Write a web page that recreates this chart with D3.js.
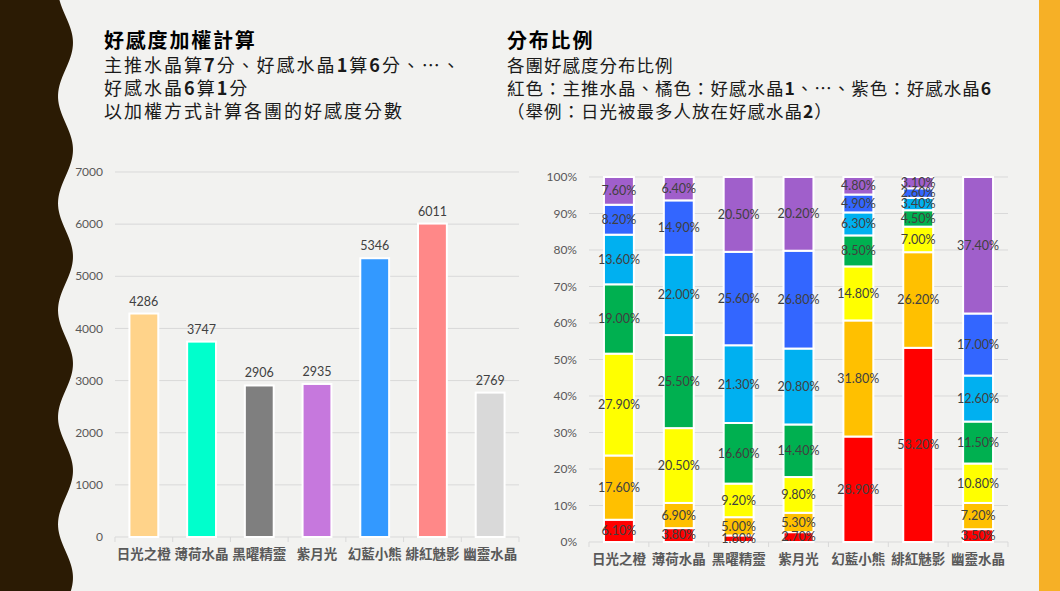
<!DOCTYPE html>
<html>
<head>
<meta charset="utf-8">
<script src="https://cdn.jsdelivr.net/npm/d3@7"></script>
<style>
  body { margin: 0; background: #F2F2F0; }
  svg text { font-family: Lato, "Noto Sans CJK TC", sans-serif; }
</style>
</head>
<body>
<div id="chart"></div>
<script>
// Data
const groups = ["日光之橙", "薄荷水晶", "黑曜精靈", "紫月光", "幻藍小熊", "緋紅魅影", "幽靈水晶"];
const scores = [4286, 3747, 2906, 2935, 5346, 6011, 2769];
const scoreColors = ["#FFD38A", "#00FFCC", "#7F7F7F", "#C678DD", "#3399FF", "#FF8888", "#D9D9D9"];
const scoreTicks = [0, 1000, 2000, 3000, 4000, 5000, 6000, 7000];

const levels = ["主推水晶", "好感水晶1", "好感水晶2", "好感水晶3", "好感水晶4", "好感水晶5", "好感水晶6"];
const levelColors = ["#FF0000", "#FFC000", "#FFFF00", "#00B050", "#00B0F0", "#3366FF", "#A05FCB"];
const share = [
  [6.1, 17.6, 27.9, 19.0, 13.6, 8.2, 7.6],
  [3.8, 6.9, 20.5, 25.5, 22.0, 14.9, 6.4],
  [1.8, 5.0, 9.2, 16.6, 21.3, 25.6, 20.5],
  [2.7, 5.3, 9.8, 14.4, 20.8, 26.8, 20.2],
  [28.9, 31.8, 14.8, 8.5, 6.3, 4.9, 4.8],
  [53.2, 26.2, 7.0, 4.5, 3.4, 2.6, 3.1],
  [3.5, 7.2, 10.8, 11.5, 12.6, 17.0, 37.4]
];
const pctTicks = [0, 10, 20, 30, 40, 50, 60, 70, 80, 90, 100];

const width = 1060;
const height = 591;

const svg = d3.select("#chart")
  .append("svg")
  .attr("width", width)
  .attr("height", height);

svg.append("rect").attr("width", width).attr("height", height).attr("fill", "#F2F2F0");

// wavy left border
const wave = d3.range(0, height + 6, 3).map(y => [65.5 + 7.5 * Math.sin((y - 16) / 107 * 2 * Math.PI), y]);
const waveArea = d3.area().x0(0).x1(d => d[0]).y(d => d[1]).curve(d3.curveBasis);
svg.append("path").attr("d", waveArea(wave)).attr("fill", "#2B1B04");

// orange right band
svg.append("rect").attr("x", 1039).attr("y", 0).attr("width", 21).attr("height", height).attr("fill", "#F6B026");

// Titles (digits drawn bold like the slide)
function textBlock(x, size, spacing, lines) {
  lines.forEach(l => {
    const t = svg.append("text")
      .attr("x", x)
      .attr("y", l.y)
      .attr("font-size", l.bold ? 20 : size)
      .attr("font-weight", l.bold ? "bold" : "normal")
      .attr("letter-spacing", l.bold ? 1.8 : spacing)
      .attr("fill", l.bold ? "#000" : "#1a1a1a")
      .style("font-family", "'Noto Sans CJK TC', sans-serif");
    l.t.split(/(\d)/).filter(s => s.length).forEach(part => {
      t.append("tspan")
        .attr("font-weight", /\d/.test(part) ? "bold" : null)
        .text(part);
    });
  });
}
textBlock(104, 18, 2, [
  { t: "好感度加權計算", y: 48, bold: true },
  { t: "主推水晶算7分、好感水晶1算6分、…、", y: 72 },
  { t: "好感水晶6算1分", y: 95 },
  { t: "以加權方式計算各團的好感度分數", y: 118 }
]);
textBlock(507, 17.5, 1, [
  { t: "分布比例", y: 48, bold: true },
  { t: "各團好感度分布比例", y: 72 },
  { t: "紅色：主推水晶、橘色：好感水晶1、…、紫色：好感水晶6", y: 95 },
  { t: "（舉例：日光被最多人放在好感水晶2）", y: 118 }
]);

// Shared axis drawing
function drawFrame(x, y, ticks, fmt, labelX) {
  const g = svg.append("g");
  g.selectAll("line.grid")
    .data(ticks.slice(1))
    .enter()
    .append("line")
    .attr("x1", x.range()[0]).attr("x2", x.range()[1])
    .attr("y1", d => y(d)).attr("y2", d => y(d))
    .attr("stroke", "#D9D9D9").attr("stroke-width", 1);
  g.selectAll("text.ytick")
    .data(ticks)
    .enter()
    .append("text")
    .attr("x", labelX)
    .attr("y", d => y(d))
    .attr("dy", "0.35em")
    .attr("text-anchor", "end")
    .attr("font-size", 12)
    .attr("fill", "#595959")
    .text(fmt);
  // baseline axis
  g.append("line")
    .attr("x1", x.range()[0]).attr("x2", x.range()[1])
    .attr("y1", y(0)).attr("y2", y(0))
    .attr("stroke", "#D9D9D9");
  g.selectAll("line.xtick")
    .data(d3.range(groups.length + 1))
    .enter()
    .append("line")
    .attr("x1", i => x.range()[0] + i * x.step())
    .attr("x2", i => x.range()[0] + i * x.step())
    .attr("y1", y(0)).attr("y2", y(0) + 5)
    .attr("stroke", "#D9D9D9");
  g.selectAll("text.xlab")
    .data(groups)
    .enter()
    .append("text")
    .attr("x", d => x(d) + x.bandwidth() / 2)
    .attr("y", y(0) + 22)
    .attr("text-anchor", "middle")
    .attr("font-size", 13.5)
    .attr("font-weight", 600)
    .attr("fill", "#595959")
    .style("font-family", "'Noto Sans CJK TC', sans-serif")
    .text(d => d);
}

// Left: weighted scores
const xL = d3.scaleBand().domain(groups).range([115, 519]).paddingInner(0.5).paddingOuter(0.25);
const yL = d3.scaleLinear().domain([0, 7000]).range([537, 172]);
drawFrame(xL, yL, scoreTicks, d => d, 103);

svg.append("g").selectAll("rect")
  .data(groups)
  .enter()
  .append("rect")
  .attr("x", d => xL(d))
  .attr("y", (d, i) => yL(scores[i]))
  .attr("width", xL.bandwidth())
  .attr("height", (d, i) => yL(0) - yL(scores[i]))
  .attr("fill", (d, i) => scoreColors[i])
  .attr("stroke", "#fff")
  .attr("stroke-width", 2);

svg.append("g").selectAll("text")
  .data(groups)
  .enter()
  .append("text")
  .attr("x", d => xL(d) + xL.bandwidth() / 2)
  .attr("y", (d, i) => yL(scores[i]) - 8)
  .attr("text-anchor", "middle")
  .attr("font-size", 12.5)
  .attr("fill", "#404040")
  .text((d, i) => scores[i]);

// Right: 100% stacked distribution
const xR = d3.scaleBand().domain(groups).range([589, 1008]).paddingInner(0.5).paddingOuter(0.25);
const yR = d3.scaleLinear().domain([0, 100]).range([542, 177]);
drawFrame(xR, yR, pctTicks, d => d + "%", 577);

const rows = groups.map((g, i) => {
  const r = { group: g };
  levels.forEach((k, j) => { r[k] = share[i][j]; });
  return r;
});
const stacked = d3.stack().keys(levels)(rows);

const layer = svg.append("g").selectAll("g")
  .data(stacked)
  .enter()
  .append("g")
  .attr("fill", (d, i) => levelColors[i]);

layer.selectAll("rect")
  .data(d => d)
  .enter()
  .append("rect")
  .attr("x", d => xR(d.data.group))
  .attr("y", d => yR(d[1]))
  .attr("width", xR.bandwidth())
  .attr("height", d => yR(d[0]) - yR(d[1]))
  .attr("stroke", "#fff")
  .attr("stroke-width", 2);

const labels = svg.append("g");
stacked.forEach(s => {
  labels.selectAll(null)
    .data(s)
    .enter()
    .append("text")
    .attr("x", d => xR(d.data.group) + xR.bandwidth() / 2)
    .attr("y", d => (yR(d[0]) + yR(d[1])) / 2)
    .attr("dy", "0.35em")
    .attr("text-anchor", "middle")
    .attr("font-size", 12.5)
    .attr("fill", "#404040")
    .text(d => (d[1] - d[0]).toFixed(2) + "%");
});
</script>
</body>
</html>
